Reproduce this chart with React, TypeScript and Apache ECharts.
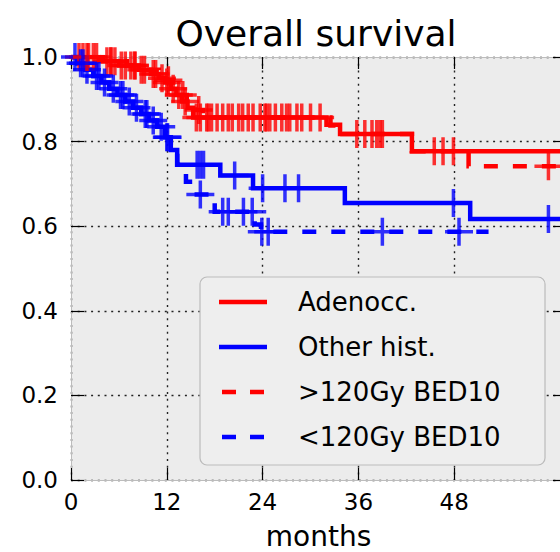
import React, { useEffect, useRef } from "react";
import * as echarts from "echarts";

// ---- Data ----
const xTicks = [0, 12, 24, 36, 48];
const yTicks = [0, 0.2, 0.4, 0.6, 0.8, 1.0];

// Adenocc. (Kaplan-Meier step events: time in months, survival after step)
const adenoTimes = [0, 3.5, 6.0, 8.5, 10.0, 11.0, 11.8, 12.5, 13.2, 13.9, 14.6, 15.3, 32.0, 33.7, 42.7];
const adenoSurv = [1.0, 0.99, 0.98, 0.97, 0.96, 0.95, 0.94, 0.925, 0.91, 0.895, 0.88, 0.857, 0.84, 0.818, 0.777];
const adenoEnd = 66;
const adenoCensored = [1.0, 1.5, 2.2, 2.8, 3.2, 4.5, 5.0, 5.5, 6.3, 6.8, 7.5, 8.0, 8.8, 9.2, 10.3, 10.6, 11.4, 12.0, 12.8, 13.5, 14.3, 15.7, 16.2, 17.0, 17.6, 18.3, 19.7, 20.2, 21.0, 22.2, 22.8, 23.7, 24.3, 24.9, 25.6, 26.4, 27.4, 28.3, 28.9, 31.2, 36.8, 37.7, 38.3, 38.7, 46.6, 47.9];

// Other hist.
const otherTimes = [0, 0.8, 1.8, 2.8, 3.8, 4.8, 5.8, 6.8, 7.8, 8.8, 9.8, 10.8, 11.8, 12.5, 13.3, 18.7, 22.8, 34.3, 50.0];
const otherSurv = [1.0, 0.985, 0.97, 0.955, 0.94, 0.925, 0.91, 0.895, 0.88, 0.865, 0.85, 0.835, 0.81, 0.78, 0.745, 0.72, 0.69, 0.655, 0.617];
const otherEnd = 66;
const otherCensored = [0.5, 1.2, 2.0, 3.2, 4.2, 5.3, 6.2, 7.3, 8.2, 9.3, 10.3, 11.3, 12.1, 15.8, 16.2, 16.6, 20.5, 24.0, 26.8, 28.5, 47.9, 59.8];

// >120Gy BED10
const highTimes = [0, 4.0, 7.0, 9.5, 11.0, 12.0, 12.8, 13.6, 14.5, 15.5, 16.5, 32.5, 34.0, 42.7, 49.8];
const highSurv = [1.0, 0.99, 0.98, 0.97, 0.96, 0.945, 0.93, 0.91, 0.895, 0.875, 0.857, 0.838, 0.818, 0.777, 0.742];
const highEnd = 66;
const highCensored = [2.0, 5.0, 8.0, 12.2, 14.0, 16.0, 17.2, 19.0, 21.5, 24.5, 27.0, 30.0, 35.8, 39.0, 45.5, 59.8];

// <120Gy BED10
const lowTimes = [0, 0.8, 1.8, 2.8, 3.8, 4.8, 5.8, 6.8, 7.8, 8.8, 9.8, 10.8, 11.8, 12.5, 13.3, 14.4, 14.9, 18.0, 23.0, 23.8];
const lowSurv = [1.0, 0.985, 0.97, 0.955, 0.94, 0.925, 0.91, 0.895, 0.88, 0.865, 0.85, 0.835, 0.81, 0.78, 0.745, 0.705, 0.675, 0.634, 0.604, 0.587];
const lowEnd = 52.3;
const lowCensored = [1.5, 3.5, 6.5, 9.5, 12.0, 16.2, 19.0, 19.7, 21.6, 22.7, 23.9, 24.7, 39.0, 48.6];

const legendLabels = ["Adenocc.", "Other hist.", ">120Gy BED10", "<120Gy BED10"];

const RED = "#ff0000";
const BLUE = "#0000ff";
const FONT = "DejaVu Sans";
const PLUS = "path://M-1.75,-14 H1.75 V-1.75 H14 V1.75 H1.75 V14 H-1.75 V1.75 H-14 V-1.75 H-1.75 Z";

function survAt(times: number[], surv: number[], t: number): number {
  let s = surv[0];
  for (let i = 0; i < times.length; i++) {
    if (times[i] <= t) s = surv[i];
  }
  return s;
}

function stepData(times: number[], surv: number[], end: number) {
  const d = times.map((t, i) => [t, surv[i]]);
  d.push([end, surv[surv.length - 1]]);
  return d;
}

function censorData(times: number[], surv: number[], cens: number[]) {
  return cens.map((t) => [t, survAt(times, surv, t)]);
}

export default function App() {
  const ref = useRef<HTMLDivElement>(null);

  useEffect(() => {
    if (!ref.current) return;
    const chart = echarts.init(ref.current, undefined, { renderer: "svg" });

    const curve = (name: string, times: number[], surv: number[], end: number, color: string, dashed: boolean) => ({
      name,
      type: "line",
      step: "end",
      data: stepData(times, surv, end),
      showSymbol: false,
      symbol: "none",
      lineStyle: { color, width: 4.5, type: dashed ? [14, 15] : "solid", cap: "butt", join: "miter" },
      silent: true,
      z: 3,
    });
    const marks = (name: string, times: number[], surv: number[], cens: number[], color: string) => ({
      name: name + " censored",
      type: "scatter",
      data: censorData(times, surv, cens),
      symbol: PLUS,
      symbolSize: 28,
      itemStyle: { color },
      silent: true,
      z: 4,
    });

    const legendRowsY = [302, 347, 392, 437];
    const legendColors = [RED, BLUE, RED, BLUE];
    const legendDashed = [false, false, true, true];
    const legendGraphics: any[] = [
      {
        type: "rect",
        shape: { x: 200, y: 277, width: 345, height: 188, r: 7 },
        style: { fill: "#eeeeee", stroke: "#bbbbbb", lineWidth: 1.2 },
        z: 10,
      },
    ];
    legendLabels.forEach((label, i) => {
      legendGraphics.push({
        type: "line",
        shape: legendDashed[i]
          ? { x1: 222, y1: legendRowsY[i], x2: 264, y2: legendRowsY[i] }
          : { x1: 219, y1: legendRowsY[i], x2: 267, y2: legendRowsY[i] },
        style: {
          stroke: legendColors[i],
          lineWidth: 4.5,
          lineDash: legendDashed[i] ? [14, 14] : null,
        },
        z: 11,
      });
      legendGraphics.push({
        type: "text",
        x: 298,
        y: legendRowsY[i],
        style: {
          text: label,
          fontSize: 26,
          fontFamily: FONT,
          fill: "#000",
          align: "left",
          verticalAlign: "middle",
        },
        z: 11,
      });
    });

    const tickStyle = { color: "#000", width: 1.2 };
    const option: any = {
      animation: false,
      backgroundColor: "#ffffff",
      grid: {
        left: 71,
        top: 57,
        width: 495,
        height: 423,
        show: true,
        backgroundColor: "#ececec",
        borderWidth: 0,
        containLabel: false,
        outerBoundsMode: "none",
      },
      graphic: [
        {
          type: "text",
          x: 316,
          y: 33,
          style: {
            text: "Overall survival",
            fontSize: 36,
            fontFamily: FONT,
            fill: "#000",
            align: "center",
            verticalAlign: "middle",
          },
        },
        ...legendGraphics,
      ],
      xAxis: [
        {
          type: "value",
          min: 0,
          max: 62,
          interval: 12,
          position: "bottom",
          name: "months",
          nameLocation: "middle",
          nameGap: 42,
          nameTextStyle: { fontSize: 28, fontFamily: FONT, color: "#000" },
          axisLine: { show: true, onZero: false, lineStyle: { color: "#bcbcbc", width: 1 } },
          axisTick: { show: true, inside: true, length: 12, lineStyle: tickStyle, customValues: xTicks },
          axisLabel: {
            show: true,
            margin: 10,
            fontSize: 23,
            fontFamily: FONT,
            color: "#000",
            customValues: xTicks,
            formatter: (v: number) => String(v),
          },
          splitLine: { show: true, lineStyle: { color: "#222", width: 1.4, type: [2, 4.7] } },
        },
        {
          type: "value",
          min: 0,
          max: 62,
          interval: 12,
          position: "top",
          axisLine: { show: true, onZero: false, lineStyle: { color: "#bcbcbc", width: 1 } },
          axisTick: { show: true, inside: true, length: 12, lineStyle: tickStyle, customValues: xTicks },
          axisLabel: { show: false },
          splitLine: { show: false },
        },
      ],
      yAxis: [
        {
          type: "value",
          min: 0,
          max: 1,
          interval: 0.2,
          position: "left",
          axisLine: { show: true, onZero: false, lineStyle: { color: "#bcbcbc", width: 1 } },
          axisTick: { show: true, inside: true, length: 13, lineStyle: tickStyle },
          axisLabel: {
            show: true,
            margin: 13,
            fontSize: 23,
            fontFamily: FONT,
            color: "#000",
            formatter: (v: number) => v.toFixed(1),
          },
          splitLine: { show: true, lineStyle: { color: "#222", width: 1.4, type: [2, 4.7] } },
        },
        {
          type: "value",
          min: 0,
          max: 1,
          interval: 0.2,
          position: "right",
          axisLine: { show: true, onZero: false, lineStyle: { color: "#bcbcbc", width: 1 } },
          axisTick: { show: true, inside: true, length: 13, lineStyle: tickStyle },
          axisLabel: { show: false },
          splitLine: { show: false },
        },
      ],
      series: [
        curve(legendLabels[0], adenoTimes, adenoSurv, adenoEnd, RED, false),
        curve(legendLabels[1], otherTimes, otherSurv, otherEnd, BLUE, false),
        curve(legendLabels[2], highTimes, highSurv, highEnd, RED, true),
        curve(legendLabels[3], lowTimes, lowSurv, lowEnd, BLUE, true),
        marks(legendLabels[0], adenoTimes, adenoSurv, adenoCensored, RED),
        marks(legendLabels[1], otherTimes, otherSurv, otherCensored, BLUE),
        marks(legendLabels[2], highTimes, highSurv, highCensored, RED),
        marks(legendLabels[3], lowTimes, lowSurv, lowCensored, BLUE),
      ],
    };

    chart.setOption(option);
    return () => chart.dispose();
  }, []);

  return (
    <div
      ref={ref}
      style={{ position: "absolute", left: 0, top: 0, width: 560, height: 552 }}
    />
  );
}
